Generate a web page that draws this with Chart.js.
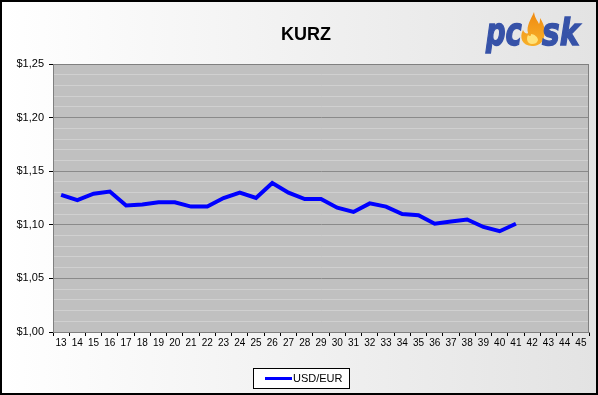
<!DOCTYPE html>
<html>
<head>
<meta charset="utf-8">
<script src="https://cdn.jsdelivr.net/npm/chart.js@4/dist/chart.umd.min.js"></script>
<style>
html,body{margin:0;padding:0;background:#fff;}
#c{display:block;}
</style>
</head>
<body>
<canvas id="c" width="598" height="395"></canvas>
<script>
// ---- data ----
const weeks = ['13','14','15','16','17','18','19','20','21','22','23','24','25','26','27','28','29','30','31','32','33','34','35','36','37','38','39','40','41','42','43','44','45'];
const usdEur = [1.128,1.123,1.129,1.131,1.118,1.119,1.121,1.121,1.117,1.117,1.125,1.130,1.125,1.139,1.130,1.124,1.124,1.116,1.112,1.120,1.117,1.110,1.109,1.101,1.103,1.105,1.098,1.094,1.101,null,null,null,null];
const seriesName = 'USD/EUR';
const chartTitle = 'KURZ';
const yMin = 1.00, yMax = 1.25, yMinorStep = 0.01, yMajorStep = 0.05;

function isMajor(v){ return Math.abs(Math.round(v / yMajorStep) * yMajorStep - v) < 1e-6; }

const decor = {
  id: 'decor',
  beforeDraw(chart){
    const ctx = chart.ctx, W = chart.width, H = chart.height;
    ctx.save();
    const g = ctx.createLinearGradient(0,0,W,0);
    g.addColorStop(0,'#ffffff');
    g.addColorStop(1,'#e3e3e3');
    ctx.fillStyle = g;
    ctx.fillRect(0,0,W,H);
    const a = chart.chartArea;
    ctx.fillStyle = '#c0c0c0';
    ctx.fillRect(a.left,a.top,a.right-a.left,a.bottom-a.top);
    ctx.restore();
  },
  beforeDatasetsDraw(chart){
    const ctx = chart.ctx, a = chart.chartArea;
    ctx.save();
    ctx.strokeStyle = '#808080';
    ctx.lineWidth = 1;
    ctx.strokeRect(a.left+0.5,a.top+0.5,a.right-a.left-1,a.bottom-a.top);
    ctx.restore();
  },
  afterDraw(chart){
    const ctx = chart.ctx, W = chart.width, H = chart.height;
    ctx.save();
    // title
    ctx.fillStyle = '#000';
    ctx.font = 'bold 18px Arial, "Liberation Sans"';
    ctx.textAlign = 'center';
    ctx.textBaseline = 'alphabetic';
    ctx.fillText(chartTitle, 306, 40);
    // logo
    drawLogo(ctx);
    // legend
    const ds = chart.data.datasets[0];
    const bx = 253, by = 368, bw = 96, bh = 20;
    ctx.fillStyle = '#fff';
    ctx.fillRect(bx,by,bw,bh);
    ctx.strokeStyle = '#000';
    ctx.lineWidth = 1;
    ctx.strokeRect(bx+0.5,by+0.5,bw,bh);
    ctx.strokeStyle = ds.borderColor;
    ctx.lineWidth = 3;
    ctx.beginPath();
    ctx.moveTo(265,378.5); ctx.lineTo(292,378.5);
    ctx.stroke();
    ctx.fillStyle = '#000';
    ctx.font = '11px Arial, "Liberation Sans"';
    ctx.textAlign = 'left';
    ctx.textBaseline = 'middle';
    ctx.fillText(ds.label, 293, 379);
    // border
    ctx.strokeStyle = '#000';
    ctx.lineWidth = 2;
    ctx.strokeRect(1,1,W-2,H-2);
    ctx.restore();
  }
};

function drawLogo(ctx){
  // flame first
  ctx.save();
  const fg = ctx.createLinearGradient(0,12,0,46);
  fg.addColorStop(0,'#f08a10');
  fg.addColorStop(1,'#f7b02a');
  ctx.fillStyle = fg;
  ctx.beginPath();
  ctx.moveTo(532,46);
  ctx.bezierCurveTo(522,46,519,37,523,30);
  ctx.bezierCurveTo(525,34,527,34,528,33);
  ctx.bezierCurveTo(526,26,531,19,534,12);
  ctx.bezierCurveTo(535,19,538,21,539,24);
  ctx.bezierCurveTo(540,22,540,20,540,18);
  ctx.bezierCurveTo(545,25,546,33,543,40);
  ctx.bezierCurveTo(541,44,537,46,532,46);
  ctx.closePath();
  ctx.fill();
  ctx.fillStyle = '#ffe27a';
  ctx.beginPath();
  ctx.moveTo(532,44);
  ctx.bezierCurveTo(527,44,526,38,528,35);
  ctx.bezierCurveTo(530,37,531,36,531,34);
  ctx.bezierCurveTo(534,34,538,37,538,40);
  ctx.bezierCurveTo(537,43,535,44,532,44);
  ctx.closePath();
  ctx.fill();
  ctx.restore();

  const bg = ctx.createLinearGradient(0,20,0,50);
  bg.addColorStop(0,'#3652a8');
  bg.addColorStop(1,'#1c2c74');
  ctx.save();
  ctx.fillStyle = bg;
  ctx.strokeStyle = bg;
  ctx.lineWidth = 1.5;
  ctx.font = 'italic bold 38px "DejaVu Sans"';
  ctx.textBaseline = 'alphabetic';
  ctx.textAlign = 'left';
  ctx.translate(486,45);
  ctx.scale(0.72,1);
  ctx.fillText('pc',0,0);
  ctx.strokeText('pc',0,0);
  ctx.restore();
  ctx.save();
  ctx.fillStyle = bg;
  ctx.strokeStyle = bg;
  ctx.lineWidth = 1.5;
  ctx.font = 'italic bold 38px "DejaVu Sans"';
  ctx.textBaseline = 'alphabetic';
  ctx.textAlign = 'left';
  ctx.translate(542,45);
  ctx.scale(0.78,1);
  ctx.fillText('sk',0,0);
  ctx.strokeText('sk',0,0);
  ctx.restore();
}

new Chart(document.getElementById('c'), {
  type: 'line',
  data: {
    labels: weeks,
    datasets: [{
      label: seriesName,
      data: usdEur,
      borderColor: '#0000ff',
      borderWidth: 4,
      pointRadius: 0,
      pointHoverRadius: 0,
      tension: 0,
      fill: false,
      spanGaps: false
    }]
  },
  options: {
    responsive: false,
    devicePixelRatio: 1,
    animation: false,
    events: [],
    layout: { padding: { top: 64, right: 9, left: 0, bottom: 0 } },
    plugins: { legend: { display: false }, title: { display: false }, tooltip: { enabled: false } },
    scales: {
      x: {
        type: 'category',
        offset: true,
        grid: { offset: true, drawOnChartArea: false, drawTicks: true, tickLength: 4, tickColor: '#000' },
        border: { color: '#808080' },
        ticks: { color: '#000', font: { family: 'Arial, "Liberation Sans"', size: 10 }, maxRotation: 0, autoSkip: false, padding: 1 },
        afterFit(s){ s.height = 63; }
      },
      y: {
        min: yMin, max: yMax,
        ticks: {
          stepSize: yMinorStep,
          autoSkip: false,
          color: '#000',
          font: { family: 'Arial, "Liberation Sans"', size: 11 },
          padding: 5,
          callback(v){ return isMajor(v) ? '$' + v.toFixed(2).replace('.', ',') : ''; }
        },
        grid: {
          color(c){ return isMajor(c.tick.value) ? '#8a8a8a' : '#d0d0d0'; },
          tickColor(c){ return isMajor(c.tick.value) ? '#000' : 'rgba(0,0,0,0)'; },
          tickLength: 4,
          lineWidth: 1
        },
        border: { color: '#808080' },
        afterFit(s){ s.width = 53; }
      }
    }
  },
  plugins: [decor]
});
</script>
</body>
</html>
